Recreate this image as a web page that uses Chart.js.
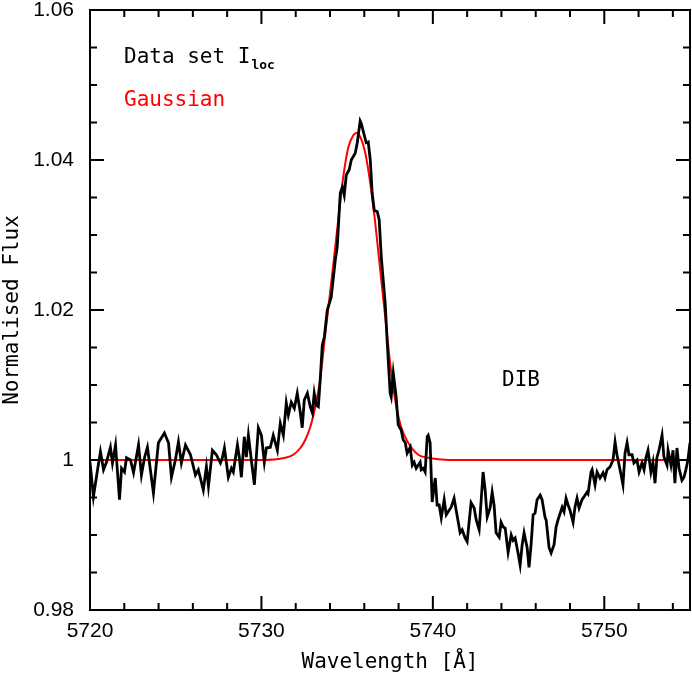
<!DOCTYPE html>
<html>
<head>
<meta charset="utf-8">
<script src="https://cdn.jsdelivr.net/npm/chart.js@4.4.1/dist/chart.umd.min.js"></script>
<style>
  html, body { margin: 0; padding: 0; background: #fff; }
  canvas { display: block; }
</style>
</head>
<body>
<canvas id="spec" width="692" height="675"></canvas>
<script>
// observed spectrum (Data set I_loc)
const wavelength = [
  5720.00, 5720.20, 5720.44, 5720.61, 5720.79, 5720.96, 5721.19, 5721.31, 5721.49, 5721.72,
  5721.84, 5722.01, 5722.13, 5722.36, 5722.54, 5722.83, 5723.00, 5723.18, 5723.35, 5723.70,
  5723.99, 5724.34, 5724.58, 5724.75, 5724.98, 5725.16, 5725.33, 5725.57, 5725.86, 5726.15,
  5726.32, 5726.61, 5726.79, 5726.91, 5727.14,
  5727.37, 5727.61, 5727.72, 5727.84, 5728.07, 5728.25, 5728.36, 5728.60, 5728.71, 5728.83,
  5729.00, 5729.12, 5729.24, 5729.41, 5729.59, 5729.82, 5730.00, 5730.17, 5730.29, 5730.52,
  5730.69, 5730.93, 5731.10, 5731.28, 5731.45, 5731.57, 5731.74, 5731.92, 5732.09, 5732.27,
  5732.38, 5732.50, 5732.68, 5732.85, 5732.97, 5733.08, 5733.20, 5733.32, 5733.43, 5733.55,
  5733.67, 5733.84, 5734.07, 5734.31, 5734.42, 5734.60, 5734.72, 5734.83, 5734.95, 5735.12,
  5735.24, 5735.47, 5735.59, 5735.76, 5735.82, 5736.00, 5736.11, 5736.23, 5736.35, 5736.46,
  5736.58, 5736.76, 5736.87, 5736.99, 5737.22, 5737.34, 5737.51, 5737.57, 5737.69, 5737.86,
  5737.98, 5738.15, 5738.27, 5738.39, 5738.50, 5738.68, 5738.80, 5738.91, 5739.03, 5739.26,
  5739.32, 5739.44, 5739.55, 5739.67, 5739.73, 5739.84, 5739.96,
  5740.14, 5740.25, 5740.37, 5740.49, 5740.66, 5740.78, 5740.95, 5741.07, 5741.24, 5741.36,
  5741.59, 5741.71, 5741.88, 5742.00, 5742.23, 5742.41, 5742.53, 5742.70, 5742.82, 5742.93,
  5743.05, 5743.17, 5743.34, 5743.46, 5743.57, 5743.69, 5743.87, 5743.98, 5744.10, 5744.22,
  5744.39, 5744.57, 5744.68, 5744.80, 5744.97, 5745.09, 5745.21, 5745.32, 5745.50, 5745.61,
  5745.73, 5745.85, 5745.96, 5746.08, 5746.26, 5746.37, 5746.55, 5746.61, 5746.78, 5746.90,
  5747.07, 5747.19, 5747.30, 5747.54, 5747.65, 5747.77, 5747.89, 5748.00, 5748.18, 5748.29,
  5748.41, 5748.53, 5748.70, 5748.82, 5748.99, 5749.05, 5749.23, 5749.29, 5749.46, 5749.58,
  5749.75, 5749.93, 5750.04, 5750.16, 5750.34, 5750.51, 5750.63, 5750.74, 5750.92, 5751.09,
  5751.21, 5751.33, 5751.44, 5751.62, 5751.73, 5751.91, 5752.03, 5752.20, 5752.32, 5752.43,
  5752.55, 5752.72, 5752.84, 5752.96, 5753.07, 5753.19, 5753.37, 5753.48, 5753.66, 5753.72,
  5753.89, 5754.01, 5754.12, 5754.24, 5754.36, 5754.53, 5754.65, 5754.76, 5754.88, 5755.00
];
const flux = [
  0.9997, 0.9951, 0.9987, 1.0011, 0.9987, 0.9997, 1.0017, 0.9996, 1.0020, 0.9947,
  0.9989, 0.9984, 1.0003, 1.0000, 0.9983, 1.0020, 0.9980, 1.0003, 1.0017, 0.9956,
  1.0023, 1.0036, 1.0023, 0.9977, 1.0000, 1.0024, 0.9996, 1.0020, 1.0007, 0.9980,
  0.9987, 0.9960, 0.9991, 0.9965, 1.0013,
  1.0007, 0.9996, 1.0003, 1.0016, 0.9977, 0.9989, 0.9984, 1.0020, 1.0004, 0.9977,
  1.0031, 1.0004, 1.0033, 1.0000, 0.9967, 1.0043, 1.0033, 0.9997, 1.0016, 1.0017,
  1.0033, 1.0013, 1.0049, 1.0033, 1.0076, 1.0060, 1.0077, 1.0069, 1.0089, 1.0063,
  1.0043, 1.0080, 1.0089, 1.0071, 1.0063, 1.0089, 1.0073, 1.0071, 1.0107, 1.0153,
  1.0164, 1.0200, 1.0217, 1.0267, 1.0284, 1.0356, 1.0364, 1.0353, 1.0380, 1.0387,
  1.0400, 1.0409, 1.0423, 1.0452, 1.0449, 1.0433, 1.0423, 1.0424, 1.0400, 1.0356,
  1.0333, 1.0331, 1.0320, 1.0271, 1.0209, 1.0156, 1.0089, 1.0084, 1.0116, 1.0084,
  1.0047, 1.0040, 1.0027, 1.0023, 1.0009, 1.0017, 0.9993, 0.9997, 0.9989, 0.9997,
  0.9987, 0.9989, 0.9984, 1.0031, 1.0033, 1.0023, 0.9944,
  0.9976, 0.9940, 0.9940, 0.9923, 0.9947, 0.9927, 0.9933, 0.9937, 0.9949, 0.9933,
  0.9903, 0.9907, 0.9896, 0.9891, 0.9943, 0.9936, 0.9920, 0.9907, 0.9947, 0.9984,
  0.9960, 0.9924, 0.9936, 0.9957, 0.9940, 0.9903, 0.9897, 0.9917, 0.9911, 0.9909,
  0.9877, 0.9900, 0.9893, 0.9896, 0.9876, 0.9860, 0.9887, 0.9903, 0.9883, 0.9857,
  0.9887, 0.9927, 0.9929, 0.9947, 0.9953, 0.9947, 0.9923, 0.9920, 0.9883, 0.9876,
  0.9887, 0.9911, 0.9920, 0.9937, 0.9931, 0.9949, 0.9940, 0.9933, 0.9917, 0.9937,
  0.9949, 0.9936, 0.9947, 0.9951, 0.9957, 0.9955, 0.9984, 0.9987, 0.9967, 0.9984,
  0.9976, 0.9983, 0.9976, 0.9987, 0.9991, 1.0000, 1.0024, 1.0007, 0.9987, 0.9967,
  1.0009, 1.0023, 1.0007, 1.0007, 0.9996, 1.0000, 0.9984, 0.9996, 0.9987, 1.0003,
  1.0013, 0.9984, 0.9997, 0.9969, 1.0003, 1.0013, 1.0033, 1.0004, 0.9993, 1.0013,
  0.9993, 1.0013, 0.9969, 1.0016, 0.9989, 0.9973, 0.9977, 0.9987, 1.0000, 1.0023
];

// Gaussian fit
const gaussWave = [
  5720.00, 5730.00, 5731.39, 5731.86, 5732.27, 5732.56, 5732.85, 5733.14, 5733.43, 5733.73,
  5734.07, 5734.48, 5734.77, 5735.07, 5735.36, 5735.53, 5735.76, 5736.06, 5736.35, 5736.64,
  5736.93, 5737.22, 5737.51, 5737.80, 5738.15, 5738.56, 5739.15, 5739.73, 5740.31, 5741.00,
  5755.00
];
const gaussFlux = [
  1.0000, 1.0000, 1.0003, 1.0007, 1.0016, 1.0027, 1.0044, 1.0071, 1.0108, 1.0169,
  1.0236, 1.0320, 1.0377, 1.0417, 1.0433, 1.0436, 1.0431, 1.0409, 1.0369, 1.0316,
  1.0253, 1.0191, 1.0129, 1.0080, 1.0044, 1.0023, 1.0007, 1.0003, 1.0001, 1.0000,
  1.0000
];

// axes
const xTickLabels = [5720, 5730, 5740, 5750];
const xMinorTicks = [5722, 5724, 5726, 5728, 5732, 5734, 5736, 5738, 5742, 5744, 5746, 5748, 5752, 5754];
const yTickLabels = [0.98, 1.00, 1.02, 1.04, 1.06];
const yMinorTicks = [0.985, 0.99, 0.995, 1.005, 1.01, 1.015, 1.025, 1.03, 1.035, 1.045, 1.05, 1.055];

const tickFont = { family: "'Liberation Sans', Arial, sans-serif", size: 21 };
const labelFont = { family: "'DejaVu Sans Mono', monospace", size: 21 };

// frame with inward ticks on all four sides
const framePlugin = {
    id: "frame",
    afterDatasetsDraw(chart) {
        const { ctx, chartArea: a, scales: { x, y } } = chart;
        ctx.save();
        ctx.strokeStyle = "#000";
        ctx.lineWidth = 2;
        ctx.strokeRect(a.left, a.top, a.right - a.left, a.bottom - a.top);
        ctx.beginPath();
        const xt = (v, len) => {
            const px = x.getPixelForValue(v);
            ctx.moveTo(px, a.bottom); ctx.lineTo(px, a.bottom - len);
            ctx.moveTo(px, a.top);    ctx.lineTo(px, a.top + len);
        };
        const yt = (v, len) => {
            const py = y.getPixelForValue(v);
            ctx.moveTo(a.left, py);  ctx.lineTo(a.left + len, py);
            ctx.moveTo(a.right, py); ctx.lineTo(a.right - len, py);
        };
        xTickLabels.forEach(v => xt(v, 14));
        xMinorTicks.forEach(v => xt(v, 7));
        yTickLabels.forEach(v => yt(v, 14));
        yMinorTicks.forEach(v => yt(v, 7));
        ctx.stroke();
        ctx.restore();
    }
};

// in-plot annotations
const notesPlugin = {
    id: "notes",
    afterDraw(chart) {
        const { ctx } = chart;
        ctx.save();
        ctx.textBaseline = "alphabetic";
        ctx.font = "21px 'DejaVu Sans Mono', monospace";
        ctx.fillStyle = "#000";
        const main = "Data set I";
        ctx.fillText(main, 124, 63);
        const w = ctx.measureText(main).width;
        ctx.font = "bold 13px 'DejaVu Sans Mono', monospace";
        ctx.fillText("loc", 124 + w + 1, 69);
        ctx.font = "21px 'DejaVu Sans Mono', monospace";
        ctx.fillStyle = "#ff0000";
        ctx.fillText("Gaussian", 124, 106);
        ctx.fillStyle = "#000";
        ctx.fillText("DIB", 502, 386);
        ctx.restore();
    }
};

const noPad = s => { s.paddingTop = 0; s.paddingBottom = 0; s.paddingLeft = 0; s.paddingRight = 0; };

new Chart(document.getElementById("spec"), {
    type: "line",
    data: {
        datasets: [
            {
                label: "Data set I_loc",
                data: wavelength.map((w, i) => ({ x: w, y: flux[i] })),
                borderColor: "#000",
                borderWidth: 2.8,
                pointRadius: 0,
                tension: 0
            },
            {
                label: "Gaussian",
                data: gaussWave.map((w, i) => ({ x: w, y: gaussFlux[i] })),
                borderColor: "#ff0000",
                borderWidth: 2,
                pointRadius: 0,
                cubicInterpolationMode: "monotone"
            }
        ]
    },
    options: {
        responsive: false,
        animation: false,
        layout: { padding: { top: 10, right: 2, left: 0, bottom: 0 } },
        plugins: { legend: { display: false }, tooltip: { enabled: false } },
        scales: {
            x: {
                type: "linear", min: 5720, max: 5755,
                afterFit: s => { s.height = 65; noPad(s); },
                afterBuildTicks: s => { s.ticks = xTickLabels.map(v => ({ value: v })); },
                grid: { display: false, drawTicks: false },
                border: { display: false },
                ticks: { padding: 9, color: "#000", font: tickFont, maxRotation: 0, autoSkip: false, callback: v => String(v) },
                title: { display: true, text: "Wavelength [Å]", color: "#000", font: labelFont, padding: 0 }
            },
            y: {
                type: "linear", min: 0.98, max: 1.06,
                afterFit: s => { s.width = 90; noPad(s); },
                afterBuildTicks: s => { s.ticks = yTickLabels.map(v => ({ value: v })); },
                grid: { display: false, drawTicks: false },
                border: { display: false },
                ticks: { padding: 16, color: "#000", font: tickFont, autoSkip: false, callback: v => String(+v.toFixed(2)) },
                title: { display: true, text: "Normalised Flux", color: "#000", font: labelFont, padding: 0 }
            }
        }
    },
    plugins: [framePlugin, notesPlugin]
});
</script>
</body>
</html>
